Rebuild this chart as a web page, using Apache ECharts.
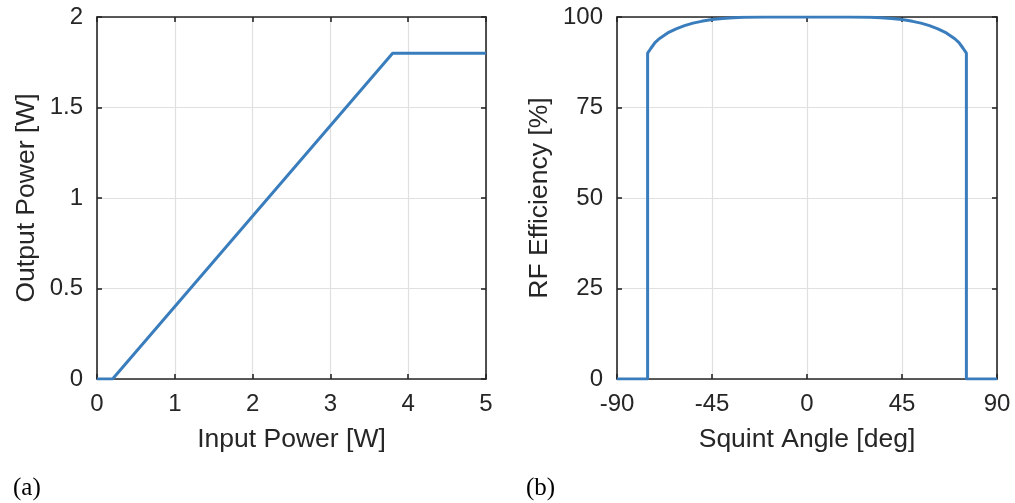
<!DOCTYPE html>
<html>
<head>
<meta charset="utf-8">
<script src="https://cdn.jsdelivr.net/npm/echarts@6/dist/echarts.min.js"></script>
<style>
  html, body { margin: 0; padding: 0; background: #fff; }
  #chart { width: 1015px; height: 503px; }
</style>
</head>
<body>
<div id="chart"></div>
<script>
// (a) amplifier transfer curve
const inputPower = [0, 0.2, 3.8, 5];
const outputPower = [0, 0, 1.8, 1.8];
const xTicksA = [0, 1, 2, 3, 4, 5];
const yTicksA = [0, 0.5, 1, 1.5, 2];

// (b) RF efficiency vs. squint angle
const squintAngle = [-90, -75.5, -75.5, -74, -72, -70, -66, -62, -58, -54, -50, -45, -40, -35, -30, -20, 0,
                     20, 30, 35, 40, 45, 50, 54, 58, 62, 66, 70, 72, 74, 75.5, 75.5, 90];
const rfEfficiency = [0, 0, 90, 91.3, 92.9, 94.0, 95.6, 96.7, 97.6, 98.3, 98.8, 99.3, 99.6, 99.8, 99.9, 100, 100,
                      100, 99.9, 99.8, 99.6, 99.3, 98.8, 98.3, 97.6, 96.7, 95.6, 94.0, 92.9, 91.3, 90, 0, 0];
const xTicksB = [-90, -45, 0, 45, 90];
const yTicksB = [0, 25, 50, 75, 100];

const FONT = 'Liberation Sans, Arial, Helvetica, sans-serif';
const SERIF = 'Liberation Serif, Times New Roman, serif';
const TXT = '#262626';
const LINE = '#3a7dbd';

function pairs(xs, ys) { return xs.map((x, i) => [x, ys[i]]); }

function axisPair(kind, gridIndex, ticks, name, nameGap) {
  const min = ticks[0], max = ticks[ticks.length - 1];
  const interval = ticks[1] - ticks[0];
  const base = {
    type: 'value', gridIndex, min, max, interval,
    axisLine: { show: true, onZero: false, lineStyle: { color: '#262626', width: 1.6 } },
    axisTick: { show: true, inside: true, length: 5, lineStyle: { color: '#262626', width: 1.6 } },
    splitLine: { show: false }
  };
  const main = Object.assign({}, base, {
    position: kind === 'x' ? 'bottom' : 'left',
    name, nameLocation: 'middle', nameGap,
    nameTextStyle: { fontFamily: FONT, fontSize: 26.5, color: TXT },
    axisLabel: { show: true, fontFamily: FONT, fontSize: 24, color: TXT,
                 margin: kind === 'x' ? 13 : 14, formatter: v => String(v) },
    splitLine: { show: true, lineStyle: { color: '#e0e0e0', width: 1.2 } }
  });
  const opp = Object.assign({}, base, {
    position: kind === 'x' ? 'top' : 'right',
    axisLabel: { show: false }
  });
  return [main, opp];
}

const [xa1, xa2] = axisPair('x', 0, xTicksA, 'Input Power [W]', 47);
const [ya1, ya2] = axisPair('y', 0, yTicksA, 'Output Power [W]', 57);
const [xb1, xb2] = axisPair('x', 1, xTicksB, 'Squint Angle [deg]', 47);
const [yb1, yb2] = axisPair('y', 1, yTicksB, 'RF Efficiency [%]', 64);

const chart = echarts.init(document.getElementById('chart'), null, { renderer: 'canvas' });
chart.setOption({
  animation: false,
  backgroundColor: '#fff',
  grid: [
    { left: 97, top: 17, width: 389, height: 362 },
    { left: 617, top: 17, width: 380, height: 362 }
  ],
  xAxis: [xa1, xa2, xb1, xb2],
  yAxis: [ya1, ya2, yb1, yb2],
  title: [
    { text: '(a)', left: 8, top: 471, textStyle: { fontFamily: SERIF, fontSize: 25, fontWeight: 'normal', color: '#000' } },
    { text: '(b)', left: 521, top: 471, textStyle: { fontFamily: SERIF, fontSize: 25, fontWeight: 'normal', color: '#000' } }
  ],
  series: [
    { type: 'line', xAxisIndex: 0, yAxisIndex: 0, data: pairs(inputPower, outputPower),
      showSymbol: false, lineStyle: { color: LINE, width: 3 }, z: 5 },
    { type: 'line', xAxisIndex: 2, yAxisIndex: 2, data: pairs(squintAngle, rfEfficiency),
      showSymbol: false, lineStyle: { color: LINE, width: 3 }, z: 5 }
  ]
});
</script>
</body>
</html>
